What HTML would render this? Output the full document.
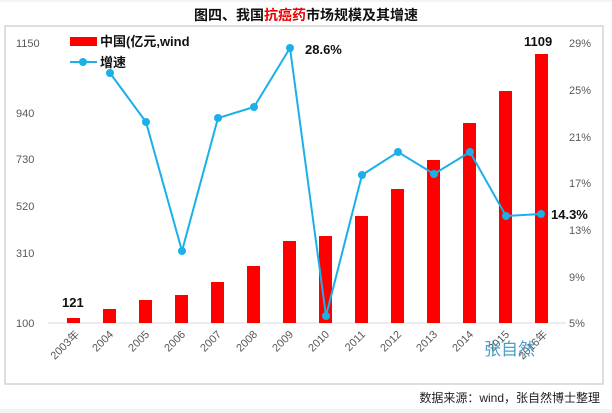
<!DOCTYPE html><html><head><meta charset="utf-8"><style>body{margin:0;background:#f3f3f3;}svg{display:block}</style></head><body>
<svg width="612" height="413" xmlns="http://www.w3.org/2000/svg" font-family="Liberation Sans, Noto Sans CJK SC, sans-serif">
<rect x="0" y="0" width="612" height="413" fill="#f3f3f3"/>
<rect x="0" y="2" width="612" height="407" fill="#fff"/>
<text x="306" y="20" text-anchor="middle" font-size="14" font-weight="bold" fill="#111">图四、我国<tspan fill="#e00">抗癌药</tspan>市场规模及其增速</text>
<rect x="5" y="26" width="598" height="358" fill="#fff" stroke="#d4d4d4" stroke-width="1.5"/>
<line x1="48" y1="323" x2="566" y2="323" stroke="#d9d9d9"/>
<g font-size="11" fill="#595959">
<text x="16" y="47">1150</text><text x="16" y="117">940</text><text x="16" y="163">730</text><text x="16" y="210">520</text><text x="16" y="257">310</text><text x="16" y="327">100</text>
<text x="569" y="47">29%</text><text x="569" y="94">25%</text><text x="569" y="141">21%</text><text x="569" y="187">17%</text><text x="569" y="234">13%</text><text x="569" y="281">9%</text><text x="569" y="327">5%</text>
</g>
<g fill="#ff0000">
<rect x="67" y="318" width="13" height="5"/><rect x="103" y="309" width="13" height="14"/><rect x="139" y="300" width="13" height="23"/><rect x="175" y="295" width="13" height="28"/><rect x="211" y="282" width="13" height="41"/><rect x="247" y="266" width="13" height="57"/><rect x="283" y="241" width="13" height="82"/><rect x="319" y="236" width="13" height="87"/><rect x="355" y="216" width="13" height="107"/><rect x="391" y="189" width="13" height="134"/><rect x="427" y="160" width="13" height="163"/><rect x="463" y="123" width="13" height="200"/><rect x="499" y="91" width="13" height="232"/><rect x="535" y="54" width="13" height="269"/>
</g>
<polyline fill="none" stroke="#1ab0e8" stroke-width="2" points="110,73 146,122 182,251 218,118 254,107 290,48 326,316 362,175 398,152 434,174 470,152 506,216 541,214"/>
<g fill="#1ab0e8">
<circle cx="110" cy="73" r="4"/><circle cx="146" cy="122" r="4"/><circle cx="182" cy="251" r="4"/><circle cx="218" cy="118" r="4"/><circle cx="254" cy="107" r="4"/><circle cx="290" cy="48" r="4"/><circle cx="326" cy="316" r="4"/><circle cx="362" cy="175" r="4"/><circle cx="398" cy="152" r="4"/><circle cx="434" cy="174" r="4"/><circle cx="470" cy="152" r="4"/><circle cx="506" cy="216" r="4"/><circle cx="541" cy="214" r="4"/>
</g>
<g font-size="13" font-weight="bold" fill="#111">
<text x="62" y="307">121</text><text x="524" y="46">1109</text><text x="305" y="54">28.6%</text><text x="551" y="219">14.3%</text>
</g>
<rect x="70" y="37" width="27" height="9" fill="#ff0000"/>
<text x="100" y="46" font-size="13" font-weight="bold" fill="#111">中国(亿元,wind</text>
<line x1="70" y1="62" x2="97" y2="62" stroke="#1ab0e8" stroke-width="2"/><circle cx="83" cy="62" r="4" fill="#1ab0e8"/>
<text x="100" y="67" font-size="13" font-weight="bold" fill="#111">增速</text>
<g font-size="11" fill="#595959">
<text transform="translate(80,335) rotate(-45)" text-anchor="end">2003年</text>
<text transform="translate(114,335) rotate(-45)" text-anchor="end">2004</text>
<text transform="translate(150,335) rotate(-45)" text-anchor="end">2005</text>
<text transform="translate(186,335) rotate(-45)" text-anchor="end">2006</text>
<text transform="translate(222,335) rotate(-45)" text-anchor="end">2007</text>
<text transform="translate(258,335) rotate(-45)" text-anchor="end">2008</text>
<text transform="translate(294,335) rotate(-45)" text-anchor="end">2009</text>
<text transform="translate(330,335) rotate(-45)" text-anchor="end">2010</text>
<text transform="translate(366,335) rotate(-45)" text-anchor="end">2011</text>
<text transform="translate(402,335) rotate(-45)" text-anchor="end">2012</text>
<text transform="translate(438,335) rotate(-45)" text-anchor="end">2013</text>
<text transform="translate(474,335) rotate(-45)" text-anchor="end">2014</text>
<text transform="translate(510,335) rotate(-45)" text-anchor="end">2015</text>
<text transform="translate(548,335) rotate(-45)" text-anchor="end">2016年</text>
</g>
<text x="484" y="355" font-size="17" fill="#2a8fc0" opacity="0.85">张自然</text>
<text x="600" y="402" text-anchor="end" font-size="12" fill="#222">数据来源：wind，张自然博士整理</text>
</svg>
</body></html>
